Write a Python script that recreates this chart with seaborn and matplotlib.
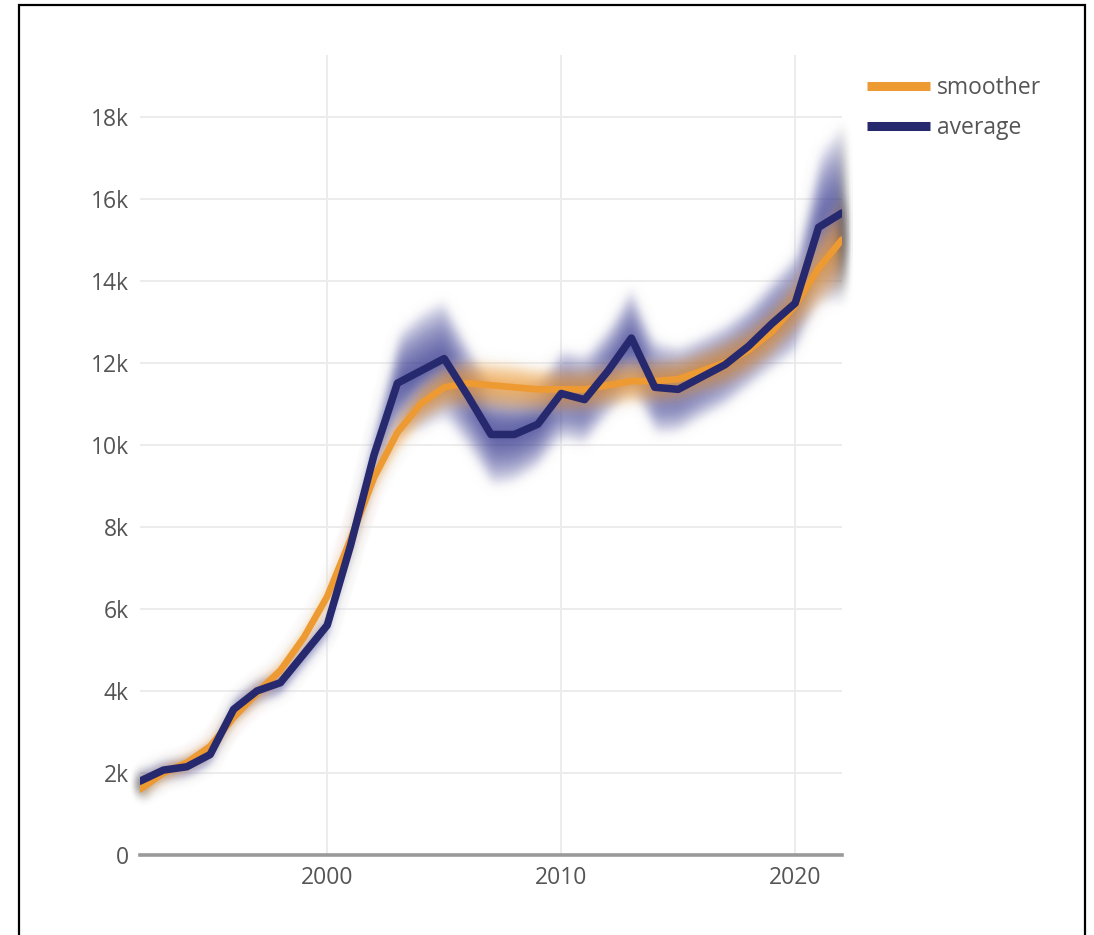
import numpy as np
import pandas as pd
import matplotlib
matplotlib.use("Agg")
import matplotlib.pyplot as plt
from matplotlib.lines import Line2D
from matplotlib.patches import Rectangle
import seaborn as sns

# ---- data -------------------------------------------------------------
years = list(range(1992, 2023))

average = [1800, 2070, 2150, 2450, 3550, 4000, 4200, 4900, 5600, 7550,
           9750, 11500, 11800, 12100, 11200, 10250, 10250, 10500, 11250, 11100,
           11800, 12600, 11400, 11350, 11650, 11950, 12400, 12950, 13450, 15300,
           15650]
average_err = [300, 300, 300, 300, 350, 350, 350, 350, 350, 450,
               700, 1300, 1500, 1500, 1350, 1300, 1200, 1100, 1150, 1150,
               1150, 1350, 1200, 1100, 1050, 1050, 1050, 1150, 1250, 1900,
               2200]

smoother = [1600, 2000, 2250, 2650, 3350, 3950, 4500, 5300, 6300, 7700,
            9200, 10300, 11000, 11400, 11500, 11450, 11400, 11350, 11350, 11350,
            11450, 11550, 11550, 11600, 11800, 12000, 12300, 12750, 13400, 14300,
            15000]
smoother_err = [250, 250, 250, 250, 250, 300, 300, 300, 350, 350,
                400, 500, 550, 600, 650, 650, 650, 600, 600, 600,
                600, 600, 600, 600, 600, 650, 650, 700, 750, 1000,
                1200]

series_names = ["smoother", "average"]
y_ticks = [0, 2000, 4000, 6000, 8000, 10000, 12000, 14000, 16000, 18000]
y_tick_labels = ["0", "2k", "4k", "6k", "8k", "10k", "12k", "14k", "16k", "18k"]
x_ticks = [2000, 2010, 2020]

ORANGE = "#EE9A33"
NAVY = "#27296E"
TEXT = "#555555"

df = pd.DataFrame({
    "year": years * 2,
    "value": smoother + average,
    "series": ["smoother"] * len(years) + ["average"] * len(years),
})


class GaussianBlur:
    """agg_filter that softens an artist with a separable Gaussian kernel."""

    def __init__(self, sigma):
        self.sigma = sigma

    def __call__(self, im, dpi):
        s = self.sigma * dpi / 100.0
        pad = int(3 * s) + 1
        src = np.pad(im, [(pad, pad), (pad, pad), (0, 0)], "constant")
        k = np.exp(-0.5 * (np.arange(-pad, pad + 1) / s) ** 2)
        k /= k.sum()
        out = np.apply_along_axis(lambda v: np.convolve(v, k, mode="same"), 0, src)
        out = np.apply_along_axis(lambda v: np.convolve(v, k, mode="same"), 1, out)
        return out, -pad, -pad


# ---- figure -----------------------------------------------------------
sns.set_theme(style="white")
plt.rcParams["font.family"] = ["Open Sans", "DejaVu Sans"]

fig = plt.figure(figsize=(10.94, 9.35), dpi=100)
ax = fig.add_axes([140 / 1094, 1 - 855 / 935, (842 - 140) / 1094, (855 - 55) / 935])


def soft_band(x, y, err, color, layers=10, alpha=0.15, sigma=4):
    """Stacked translucent bands, blurred so the spread fades out from the line."""
    x = np.asarray(x, float)
    y = np.asarray(y, float)
    e = np.asarray(err, float)
    for i in range(1, layers + 1):
        f = i / layers
        poly = ax.fill_between(x, y - e * f, y + e * f, color=color, alpha=alpha,
                               lw=0, zorder=2)
        poly.set_agg_filter(GaussianBlur(sigma))
        poly.set_rasterized(True)


soft_band(years, average, average_err, "#34368F", layers=10, alpha=0.15, sigma=4)
soft_band(years, smoother, smoother_err, ORANGE, layers=8, alpha=0.17, sigma=4)

sns.lineplot(data=df, x="year", y="value", hue="series",
             palette={"smoother": ORANGE, "average": NAVY},
             hue_order=series_names, linewidth=4.8, ax=ax, legend=False,
             zorder=4)
# keep the average line above the smoother
for ln in ax.get_lines():
    if matplotlib.colors.to_hex(ln.get_color()).lower() == NAVY.lower():
        ln.set_zorder(5)
        ln.set_linewidth(5.4)
    ln.set_solid_joinstyle("round")

# ---- axes styling -----------------------------------------------------
ax.set_xlim(1992, 2022)
ax.set_ylim(0, 19500)
ax.set_xticks(x_ticks)
ax.set_xticklabels([str(t) for t in x_ticks])
ax.set_yticks(y_ticks)
ax.set_yticklabels(y_tick_labels)
ax.set_xlabel("")
ax.set_ylabel("")
ax.grid(True, color="#EBEBEB", linewidth=1.3, zorder=0)
ax.set_axisbelow(True)
for side in ["top", "right", "left"]:
    ax.spines[side].set_visible(False)
ax.spines["bottom"].set_color("#9A9A9A")
ax.spines["bottom"].set_linewidth(2.6)
ax.spines["bottom"].set_zorder(6)
ax.tick_params(axis="both", length=0, labelsize=16.5, colors=TEXT)
ax.tick_params(axis="y", pad=8)
ax.tick_params(axis="x", pad=8)

handles = [Line2D([0], [0], color=ORANGE, lw=6.5, solid_capstyle="butt"),
           Line2D([0], [0], color=NAVY, lw=6.5, solid_capstyle="butt")]
leg = fig.legend(handles, series_names, loc="upper left",
                 bbox_to_anchor=(867 / 1094, 1 - 76 / 935),
                 frameon=False, fontsize=16.5, handlelength=2.75,
                 handletextpad=0.32, labelspacing=0.72, borderaxespad=0,
                 borderpad=0)
for t in leg.get_texts():
    t.set_color(TEXT)

# outer frame
fig.patches.append(Rectangle((19 / 1094, -0.02), (1085 - 19) / 1094, 1 - 5 / 935 + 0.02,
                             transform=fig.transFigure, fill=False,
                             edgecolor="black", linewidth=1.6, zorder=10))

fig.savefig("out.png", dpi=100)
